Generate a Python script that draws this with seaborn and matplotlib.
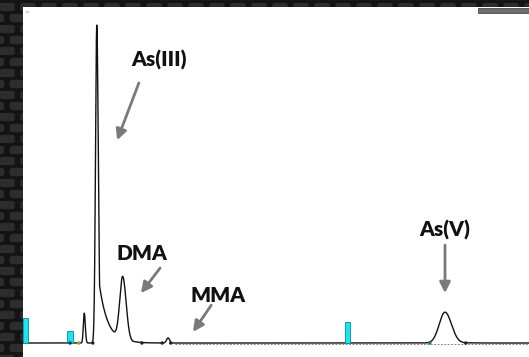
import numpy as np
import pandas as pd
import seaborn as sns
import matplotlib.pyplot as plt
from matplotlib.patches import FancyBboxPatch, Rectangle

# Peak table of the chromatogram (retention time in min, height in counts,
# left/right Gaussian widths, tail fraction and tail decay constant)
peak_names = ["pre", "As(III)", "DMA", "MMA", "As(V)"]
peak_rt = [1.211, 1.458, 1.970, 2.866, 8.340]
peak_height = [94, 1000, 198, 16, 97]
peak_sigma_left = [0.018, 0.025, 0.058, 0.030, 0.115]
peak_sigma_right = [0.020, 0.030, 0.068, 0.030, 0.128]
peak_tail_frac = [0.0, 0.25, 0.08, 0.0, 0.08]
peak_tail_tau = [0.05, 0.168, 0.10, 0.05, 0.18]

# Event markers (cyan) and integration marks on the baseline
event_time = [0.05, 0.93, 6.41]
event_height = [79, 38, 66]
mark_time = [0.93, 1.10, 1.38, 2.35, 2.75, 2.92, 8.04, 8.75]
mark_color = ["#1a237e", "#9e9d24", "#222222", "#222222", "#222222", "#222222", "#2e7d32", "#222222"]

labels = ["As(III)", "DMA", "MMA", "As(V)"]
label_xy = [(2.69, 890), (2.35, 283), (3.85, 148), (8.34, 355)]
arrow_start = [(2.29, 818), (2.71, 236), (3.72, 119), (8.34, 308)]
arrow_end = [(1.86, 638), (2.33, 157), (3.36, 35), (8.34, 157)]

t = np.arange(0.0, 10.0, 0.002)
signal = np.zeros_like(t)
for rt, h, sl, sr, f, tau in zip(peak_rt, peak_height, peak_sigma_left,
                                 peak_sigma_right, peak_tail_frac, peak_tail_tau):
    d = t - rt
    left = np.exp(-0.5 * (d / sl) ** 2)
    right = np.maximum(np.exp(-0.5 * (d / sr) ** 2), f * np.exp(-np.clip(d, 0, None) / tau))
    signal += h * np.where(d < 0, left, right)

df = pd.DataFrame({"time": t, "signal": signal})

sns.set_theme(style="white")
W, H = 529, 357
fig = plt.figure(figsize=(W / 100, H / 100), dpi=100)
fig.patch.set_facecolor("#141414")

# textured dark frame
for j, yy in enumerate(np.arange(-6, H + 12, 11)):
    off = 0 if j % 2 == 0 else 10.5
    for xx in np.arange(-10 + off, W + 21, 21):
        fig.patches.append(FancyBboxPatch(((xx + 2) / W, 1 - (yy + 4) / H), 9 / W, 4 / H,
                                          boxstyle="round,pad=0.006", transform=fig.transFigure,
                                          fc="#2d2d2d", ec="none", zorder=0))

ax = fig.add_axes([23 / W, 0, 1 - 23 / W, (H - 7) / H])
ax.set_facecolor("white")
ax.set_zorder(2)

sns.lineplot(data=df, x="time", y="signal", ax=ax, color="#111111", lw=1.0)

# baseline texture
ax.plot([3.0, 10.0], [-2, -2], color="#888888", lw=0.7, ls=(0, (2, 1.5)))

# event markers
ax.bar(event_time, event_height, width=0.11, color="#19e6f0", edgecolor="#0a8a94", lw=0.6, zorder=3)
ax.scatter(mark_time, [0] * len(mark_time), s=6, c=mark_color, zorder=4, linewidths=0)

for lab, xy, s, e in zip(labels, label_xy, arrow_start, arrow_end):
    ax.text(xy[0], xy[1], lab, ha="center", va="center", fontsize=15,
            fontweight="heavy", family="Lato", color="#111111")
    ax.annotate("", xy=e, xytext=s,
                arrowprops=dict(arrowstyle="-|>", color="#7a7a7a", lw=2, mutation_scale=16,
                                shrinkA=0, shrinkB=0))

ax.text(0.05, 1040, "cs", fontsize=3, color="#888888", va="center")
ax.add_patch(Rectangle((9.0, 1038), 1.0, 15, fc="#6e6e6e", ec="#333333", lw=0.5, zorder=5,
                       clip_on=False))

ax.set_xlim(0, 10.0)
ax.set_ylim(-44, 1057)
ax.set_xlabel("")
ax.set_ylabel("")
ax.set_xticks([])
ax.set_yticks([])
for sp in ax.spines.values():
    sp.set_visible(False)

fig.savefig("out.png", dpi=100, facecolor=fig.get_facecolor())
